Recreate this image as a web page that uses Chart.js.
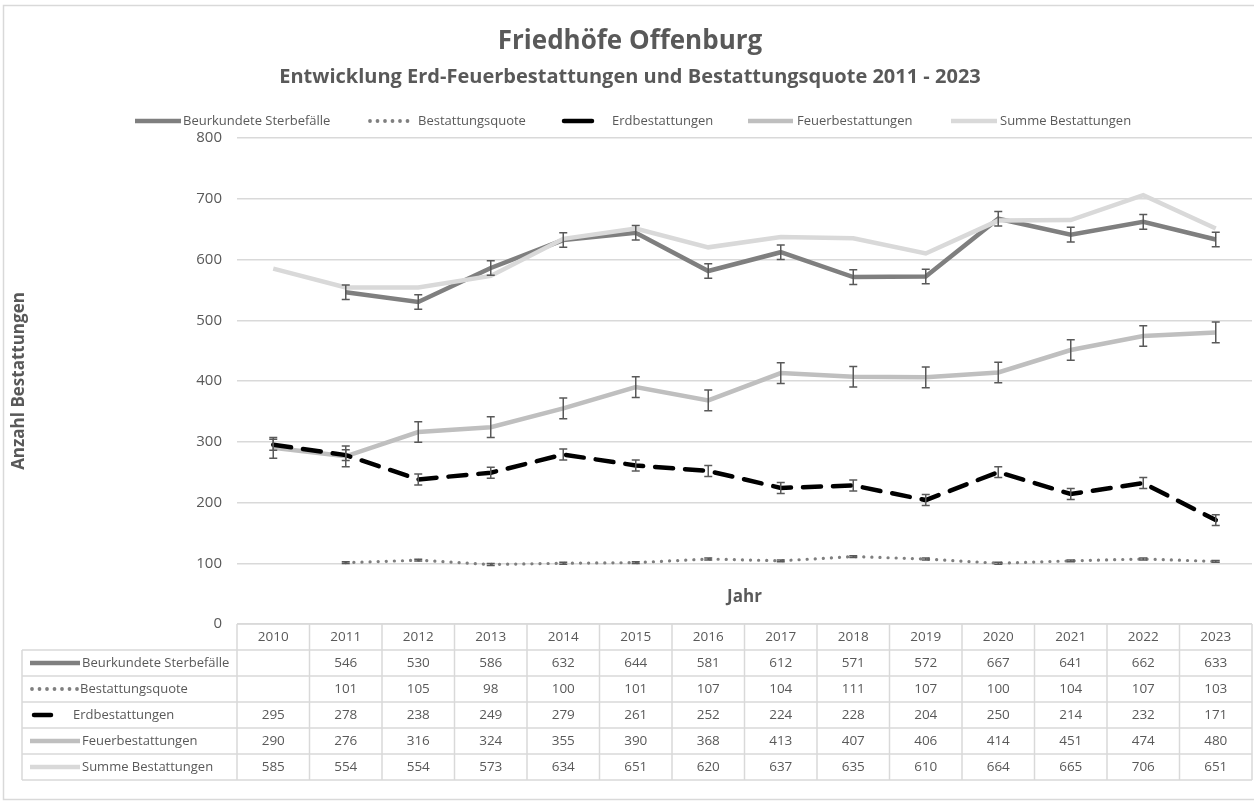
<!DOCTYPE html>
<html>
<head>
<meta charset="utf-8">
<script src="https://cdn.jsdelivr.net/npm/chart.js@4.4.1/dist/chart.umd.min.js"></script>
<style>
  html, body { margin: 0; padding: 0; background: #fff; }
  #wrap { width: 1254px; height: 803px; }
</style>
</head>
<body>
<div id="wrap"><canvas id="chart"></canvas></div>
<script>
const years = ['2010','2011','2012','2013','2014','2015','2016','2017','2018','2019','2020','2021','2022','2023'];
const sterbefaelle = [null, 546, 530, 586, 632, 644, 581, 612, 571, 572, 667, 641, 662, 633];
const quote        = [null, 101, 105, 98, 100, 101, 107, 104, 111, 107, 100, 104, 107, 103];
const erd          = [295, 278, 238, 249, 279, 261, 252, 224, 228, 204, 250, 214, 232, 171];
const feuer        = [290, 276, 316, 324, 355, 390, 368, 413, 407, 406, 414, 451, 474, 480];
const summe        = [585, 554, 554, 573, 634, 651, 620, 637, 635, 610, 664, 665, 706, 651];
const yTicks = [0, 100, 200, 300, 400, 500, 600, 700, 800];

// Fehlerbalken (+/-), geschätzt
const errSterbe = 12;
const errQuote = 1.5;
const errErd = 9;
const errFeuer = 17;

const FONT = "'Open Sans', 'Liberation Sans', sans-serif";
const TXT = '#595959';
const GRID = '#d9d9d9';

const datasets = [
  { label: 'Beurkundete Sterbefälle', data: sterbefaelle, borderColor: '#7f7f7f', borderWidth: 4.5, order: 5, err: errSterbe },
  { label: 'Bestattungsquote', data: quote, borderColor: '#7f7f7f', borderWidth: 3.2, borderDash: [0.1, 8], borderCapStyle: 'round', order: 3, err: errQuote },
  { label: 'Erdbestattungen', data: erd, borderColor: '#000000', borderWidth: 4.5, borderDash: [18, 12], borderCapStyle: 'round', order: 2, err: errErd },
  { label: 'Feuerbestattungen', data: feuer, borderColor: '#bfbfbf', borderWidth: 4.5, order: 4, err: errFeuer },
  { label: 'Summe Bestattungen', data: summe, borderColor: '#d9d9d9', borderWidth: 4.5, order: 1, err: 0 }
];
datasets.forEach(d => { d.pointRadius = 0; d.tension = 0; d.fill = false; d.spanGaps = false; });

// kleine Linienprobe für Legende und Tabelle
function drawSample(ctx, ds, x1, x2, y) {
  ctx.save();
  ctx.strokeStyle = ds.borderColor;
  ctx.lineWidth = ds.borderWidth;
  if (ds.label === 'Bestattungsquote') {
    ctx.fillStyle = ds.borderColor;
    for (let x = x1 + 2; x <= x2; x += 7.5) {
      ctx.beginPath(); ctx.arc(x, y, 1.9, 0, Math.PI * 2); ctx.fill();
    }
  } else {
    ctx.lineCap = ds.borderDash ? 'round' : 'butt';
    ctx.beginPath(); ctx.moveTo(x1, y); ctx.lineTo(x2, y); ctx.stroke();
  }
  ctx.restore();
}

const legendPos = [
  { s: 135, e: 181, t: 183 },
  { s: 368, e: 412, t: 418 },
  { s: 564, e: 592, t: 612 },
  { s: 748, e: 793, t: 797 },
  { s: 951, e: 997, t: 1000 }
];
const tablePos = [
  { s: 30, e: 80, t: 82 },
  { s: 30, e: 78, t: 80 },
  { s: 34, e: 51, t: 73 },
  { s: 30, e: 80, t: 82 },
  { s: 30, e: 80, t: 82 }
];

const deko = {
  id: 'deko',
  beforeDraw(chart) {
    const ctx = chart.ctx;
    ctx.save();
    ctx.fillStyle = '#fff';
    ctx.fillRect(0, 0, chart.width, chart.height);
    ctx.strokeStyle = GRID;
    ctx.lineWidth = 1.5;
    ctx.strokeRect(3.5, 5.5, chart.width + 10, chart.height - 9);
    ctx.restore();
  },
  afterDatasetsDraw(chart) {
    const ctx = chart.ctx;
    const ys = chart.scales.y;
    ctx.save();
    ctx.strokeStyle = '#595959';
    ctx.lineWidth = 1.5;
    chart.data.datasets.forEach((ds, di) => {
      if (!ds.err) return;
      const meta = chart.getDatasetMeta(di);
      ds.data.forEach((v, i) => {
        if (v == null) return;
        const x = meta.data[i].x;
        const yt = ys.getPixelForValue(v + ds.err);
        const yb = ys.getPixelForValue(v - ds.err);
        ctx.beginPath();
        ctx.moveTo(x, yt); ctx.lineTo(x, yb);
        ctx.moveTo(x - 4, yt); ctx.lineTo(x + 4, yt);
        ctx.moveTo(x - 4, yb); ctx.lineTo(x + 4, yb);
        ctx.stroke();
      });
    });
    ctx.restore();
  },
  afterDraw(chart) {
    const ctx = chart.ctx;
    const area = chart.chartArea;
    const xs = chart.scales.x;
    const cx = 630;
    ctx.save();
    ctx.fillStyle = TXT;
    ctx.textAlign = 'center';
    ctx.textBaseline = 'middle';
    ctx.font = 'bold 26px ' + FONT;
    ctx.fillText('Friedhöfe Offenburg', cx, 42);
    ctx.font = 'bold 20px ' + FONT;
    ctx.fillText('Entwicklung Erd-Feuerbestattungen und Bestattungsquote 2011 - 2023', cx, 77);

    // Legende
    ctx.font = '13px ' + FONT;
    ctx.textAlign = 'left';
    chart.data.datasets.forEach((ds, i) => {
      const p = legendPos[i];
      drawSample(ctx, ds, p.s, p.e, 121);
      ctx.fillStyle = TXT;
      ctx.fillText(ds.label, p.t, 121);
    });

    // Achsentitel x
    ctx.font = 'bold 17px ' + FONT;
    ctx.textAlign = 'center';
    ctx.fillText('Jahr', (area.left + area.right) / 2, 597);

    // Datentabelle
    const half = (xs.getPixelForValue(1) - xs.getPixelForValue(0)) / 2;
    const rowH = 26;
    const top = area.bottom;
    const labelLeft = 22;
    const nRows = chart.data.datasets.length;
    const bottom = top + rowH * (nRows + 1);
    ctx.strokeStyle = GRID;
    ctx.lineWidth = 1.5;
    ctx.beginPath();
    ctx.moveTo(area.left, top); ctx.lineTo(area.right, top);
    for (let r = 1; r <= nRows + 1; r++) {
      ctx.moveTo(labelLeft, top + r * rowH); ctx.lineTo(area.right, top + r * rowH);
    }
    ctx.moveTo(labelLeft, top + rowH); ctx.lineTo(labelLeft, bottom);
    years.forEach((y, i) => {
      const x = xs.getPixelForValue(i) - half;
      ctx.moveTo(x, top); ctx.lineTo(x, bottom);
    });
    ctx.moveTo(area.right, top); ctx.lineTo(area.right, bottom);
    ctx.stroke();

    ctx.font = '13.5px ' + FONT;
    ctx.fillStyle = TXT;
    years.forEach((y, i) => ctx.fillText(y, xs.getPixelForValue(i), top + rowH / 2));
    chart.data.datasets.forEach((ds, r) => {
      const yy = top + rowH * (r + 1) + rowH / 2;
      const p = tablePos[r];
      drawSample(ctx, ds, p.s, p.e, yy);
      ctx.fillStyle = TXT;
      ctx.textAlign = 'left';
      ctx.font = '13px ' + FONT;
      ctx.fillText(ds.label, p.t, yy);
      ctx.textAlign = 'center';
      ctx.font = '13.5px ' + FONT;
      ds.data.forEach((v, i) => {
        if (v != null) ctx.fillText(String(v), xs.getPixelForValue(i), yy);
      });
    });
    ctx.restore();
  }
};

new Chart(document.getElementById('chart'), {
  type: 'line',
  data: { labels: years, datasets: datasets },
  plugins: [deko],
  options: {
    responsive: true,
    maintainAspectRatio: false,
    animation: false,
    layout: { padding: { top: 138, bottom: 179, left: 0, right: 2 } },
    plugins: { legend: { display: false }, tooltip: { enabled: false }, title: { display: false } },
    scales: {
      x: { type: 'category', display: false, offset: true },
      y: {
        min: 0, max: 800,
        afterBuildTicks: s => { s.ticks = yTicks.map(v => ({ value: v })); },
        afterFit: s => { s.width = 237; },
        ticks: { color: TXT, font: { family: FONT, size: 15 }, padding: 15 },
        grid: { color: GRID, lineWidth: 1.5, drawTicks: false },
        border: { display: false },
        title: { display: true, text: 'Anzahl Bestattungen', color: TXT, font: { family: FONT, size: 17, weight: 'bold' }, padding: { top: 9 } }
      }
    }
  }
});
</script>
</body>
</html>
